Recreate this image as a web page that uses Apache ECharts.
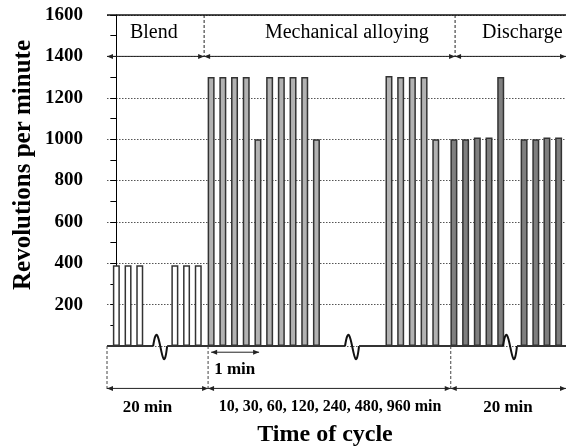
<!DOCTYPE html>
<html>
<head>
<meta charset="utf-8">
<script src="https://cdn.jsdelivr.net/npm/echarts@6/dist/echarts.min.js"></script>
<style>
html, body { margin: 0; padding: 0; background: #fff; }
#chart { width: 566px; height: 448px; }
</style>
</head>
<body>
<div id="chart"></div>
<script>
// pulse slots along the time axis and speed of each pulse (rpm)
const blendX = [0, 1, 2, 5, 6, 7]
const blendRpm = [390, 390, 390, 390, 390, 390]
const millX = [8.1, 9.1, 10.1, 11.1, 12.1, 13.1, 14.1, 15.1, 16.1, 17.1, 23.3, 24.3, 25.3, 26.3, 27.3]
const millRpm = [1300, 1300, 1300, 1300, 1000, 1300, 1300, 1300, 1300, 1000, 1305, 1300, 1300, 1300, 1000]
const dischargeX = [28.85, 29.85, 30.85, 31.85, 32.85, 34.85, 35.85, 36.8, 37.8]
const dischargeRpm = [1000, 1000, 1008, 1008, 1300, 1000, 1000, 1008, 1008]

// axis break marks on the time axis
const breakX = [4, 20.4, 33.9]

// phases
const phaseNames = ['Blend', 'Mechanical alloying', 'Discharge']
const phaseLabelX = [3.2, 19.7, 34.7]
const phaseTopBounds = [-0.8, 7.5, 28.95, 38.43]
const phaseTimes = ['20 min', '10, 30, 60, 120, 240, 480, 960 min', '20 min']
const phaseTimeX = [2.66, 18.26, 33.47]
const phaseBottomBounds = [-0.8, 7.84, 28.58, 38.43]
const pulseSpan = [8.1, 12.2] // "1 min"

const X_MIN = -0.8
const X_MAX = 38.43
const FONT = 'Liberation Serif'

const zip = (xs, ys) => xs.map((x, i) => [x, ys[i]])

const chart = echarts.init(document.getElementById('chart'))

const barStyle = (fill) => ({
  color: fill,
  borderColor: '#333333',
  borderWidth: 1.5
})

const option = {
  animation: false,
  grid: { left: 107, right: 0, top: 15, bottom: 102 },
  xAxis: {
    type: 'value',
    min: X_MIN,
    max: X_MAX,
    show: false
  },
  yAxis: {
    type: 'value',
    min: 0,
    max: 1600,
    interval: 200,
    axisLine: { show: true, lineStyle: { color: '#000', width: 1 } },
    axisTick: { show: true, length: 6, lineStyle: { color: '#000' } },
    minorTick: { show: true, splitNumber: 2, length: 6, lineStyle: { color: '#000' } },
    axisLabel: {
      margin: 24,
      color: '#000',
      fontFamily: FONT,
      fontWeight: 'bold',
      fontSize: 19,
      formatter: (v) => (v === 0 ? '' : v)
    },
    splitLine: { show: true, lineStyle: { color: '#555', width: 1, type: [1.5, 1.5] } }
  },
  series: [
    { type: 'bar', data: zip(blendX, blendRpm), barWidth: 7, barGap: '-100%', itemStyle: barStyle('#ffffff') },
    { type: 'bar', data: zip(millX, millRpm), barWidth: 7, barGap: '-100%', itemStyle: barStyle('#b2b2b2') },
    { type: 'bar', data: zip(dischargeX, dischargeRpm), barWidth: 7, barGap: '-100%', itemStyle: barStyle('#7f7f7f') }
  ]
}

chart.setOption(option)

const px = (x, y) => chart.convertToPixel({ gridIndex: 0 }, [x, y])

const lineEl = (x1, y1, x2, y2, style) => ({
  type: 'line',
  shape: { x1, y1, x2, y2 },
  style: Object.assign({ stroke: '#222', lineWidth: 1 }, style),
  z: 100
})

const arrowHead = (tx, ty, dir) => ({
  type: 'polygon',
  shape: { points: [[tx, ty], [tx - dir * 6, ty - 2.5], [tx - dir * 6, ty + 2.5]] },
  style: { fill: '#222' },
  z: 101
})

const textEl = (x, y, text, size, weight, extra) => ({
  type: 'text',
  x, y,
  style: {
    text,
    fill: '#000',
    font: `${weight} ${size}px "${FONT}"`,
    align: 'center',
    verticalAlign: 'middle'
  },
  z: 102,
  ...extra
})

const buildGraphic = () => {
  const g = []
  const [x0, yBase] = px(X_MIN, 0)
  const [x1, yTop] = px(X_MAX, 1600)
  const yPhase = px(0, 1400)[1]

  // top frame line
  g.push(lineEl(x0, yTop, x1, yTop, { lineWidth: 1.5, stroke: '#111' }))

  // phase header: separators, arrows, names
  phaseTopBounds.forEach((b, i) => {
    const bx = px(b, 0)[0]
    if (i > 0 && i < phaseTopBounds.length - 1) {
      g.push(lineEl(bx, yTop, bx, yPhase, { lineDash: [3, 2] }))
    }
    if (i < phaseTopBounds.length - 1) {
      const nx = px(phaseTopBounds[i + 1], 0)[0]
      g.push(lineEl(bx, yPhase, nx, yPhase, { lineWidth: 1 }))
      g.push(arrowHead(bx, yPhase, -1))
      g.push(arrowHead(nx, yPhase, 1))
    }
  })
  phaseNames.forEach((name, i) => {
    const p = px(phaseLabelX[i], 1513)
    g.push(textEl(p[0], p[1], name, 20, 'normal'))
  })

  // baseline with break marks
  let cur = x0
  breakX.forEach((b) => {
    const c = px(b, 0)[0]
    g.push(lineEl(cur, yBase, c - 10, yBase, { lineWidth: 2, stroke: '#333' }))
    g.push({
      type: 'bezierCurve',
      shape: {
        x1: c - 10, y1: yBase, x2: c + 4, y2: yBase,
        cpx1: c - 4, cpy1: yBase - 40, cpx2: c - 1, cpy2: yBase + 44
      },
      style: { stroke: '#111', lineWidth: 2, fill: null },
      z: 100
    })
    cur = c + 4
  })
  g.push(lineEl(cur, yBase, x1, yBase, { lineWidth: 2, stroke: '#333' }))

  // bottom phase durations
  const yDur = px(0, -205)[1]
  phaseBottomBounds.forEach((b, i) => {
    const bx = px(b, 0)[0]
    if (i < phaseBottomBounds.length - 1) {
      g.push(lineEl(bx, yBase, bx, yDur + 2, { lineDash: [3, 2], stroke: '#444' }))
      const nx = px(phaseBottomBounds[i + 1], 0)[0]
      g.push(lineEl(bx, yDur, nx, yDur, { lineWidth: 1 }))
      g.push(arrowHead(bx, yDur, -1))
      g.push(arrowHead(nx, yDur, 1))
    }
  })
  phaseTimes.forEach((t, i) => {
    const p = px(phaseTimeX[i], -296)
    g.push(textEl(p[0], p[1], t, i === 1 ? 16 : 17, 'bold'))
  })

  // one pulse = 1 min
  const ps = px(pulseSpan[0], -30)
  const pe = px(pulseSpan[1], -30)
  g.push(lineEl(ps[0], ps[1], pe[0], pe[1], { lineWidth: 1 }))
  g.push(arrowHead(ps[0], ps[1], -1))
  g.push(arrowHead(pe[0], pe[1], 1))
  const pt = px(pulseSpan[0], -114)
  g.push(textEl(pt[0] + 3, pt[1], '1 min', 17, 'bold', { style: {
    text: '1 min', fill: '#000', font: `bold 17px "${FONT}"`, align: 'left', verticalAlign: 'middle'
  } }))

  // axis titles
  g.push(textEl(325, 435, 'Time of cycle', 24, 'bold'))
  g.push(textEl(24, 165, 'Revolutions per minute', 25, 'bold', { rotation: Math.PI / 2 }))

  return g
}

chart.setOption({ graphic: buildGraphic() })

window.addEventListener('resize', () => chart.resize())
</script>
</body>
</html>
